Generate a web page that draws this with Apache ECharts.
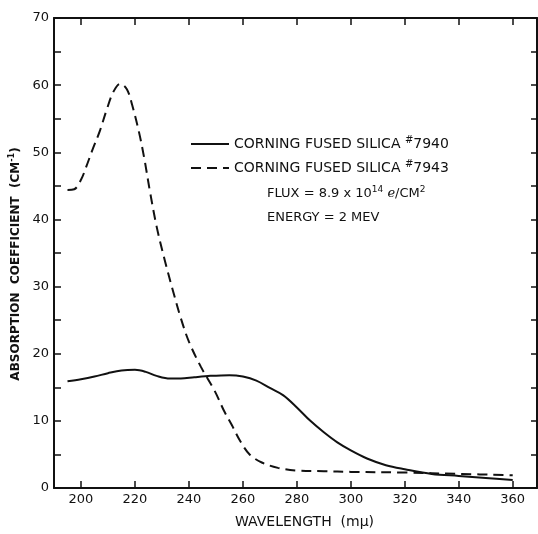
<!DOCTYPE html>
<html>
<head>
<meta charset="utf-8">
<script src="https://cdn.jsdelivr.net/npm/echarts@6/dist/echarts.min.js"></script>
<style>html,body{margin:0;padding:0;background:#fff;}#c{width:538px;height:534px;}</style>
</head>
<body>
<div id="c"></div>
<script>
// Data
const xTicks = [200, 220, 240, 260, 280, 300, 320, 340, 360];
const name7940 = 'CORNING FUSED SILICA #7940';
const name7943 = 'CORNING FUSED SILICA #7943';
const wl7940 = [195, 200, 205, 210, 215, 220, 224, 228, 233, 237, 242, 248, 255, 260, 265, 270, 275, 280, 285, 290, 295, 300, 306, 313, 320, 330, 340, 350, 360];
const ab7940 = [15.9, 16.2, 16.6, 17.1, 17.5, 17.6, 17.3, 16.7, 16.3, 16.3, 16.5, 16.7, 16.8, 16.6, 16.0, 14.9, 13.8, 12.0, 10.0, 8.3, 6.8, 5.6, 4.4, 3.4, 2.8, 2.1, 1.8, 1.5, 1.2];
const wl7943 = [195, 197.5, 200, 202, 204, 207, 209.5, 212, 214.5, 217, 219, 221.5, 223.5, 225.5, 228, 231, 234, 237, 240, 244.5, 249.5, 253, 256, 259, 262.5, 267, 273, 280, 290, 300, 320, 340, 360];
const ab7943 = [44.4, 44.5, 45.9, 47.9, 50.1, 53.2, 56.3, 59.0, 60.2, 59.4, 57.0, 53.0, 49.0, 44.3, 39.0, 34.0, 29.5, 25.3, 21.8, 18.0, 14.5, 11.5, 9.3, 7.0, 5.0, 3.8, 3.0, 2.6, 2.5, 2.4, 2.3, 2.1, 1.9];

const pairs = (xs, ys) => xs.map((x, i) => [x, ys[i]]);
const FONT = 'DejaVu Sans';
const INK = '#111';

const chart = echarts.init(document.getElementById('c'), null, {renderer: 'canvas'});
const tickCommon = {show: true, inside: true, length: 7, lineStyle: {color: INK, width: 1.5}};
chart.setOption({
  animation: false,
  backgroundColor: '#fff',
  grid: {left: 54, right: 1, top: 18, bottom: 40, containLabel: false},
  legend: {
    left: 190, top: 135, padding: 0, orient: 'vertical', itemWidth: 38, itemHeight: 14, itemGap: 8,
    data: [name7940, name7943],
    itemStyle: {opacity: 0},
    textStyle: {fontFamily: FONT, fontSize: 14, color: INK,
      rich: {sup: {fontFamily: FONT, fontSize: 10, color: INK, verticalAlign: 'top', padding: [0, 0, 8, 0]}}},
    formatter: n => n.replace('#', '{sup|#}')
  },
  graphic: [
    {type: 'text', left: 267, top: 185, style: {
      text: 'FLUX = 8.9 x 10{sup|14} ℯ/CM{sup|2}', fontFamily: FONT, fontSize: 13, fill: INK,
      rich: {sup: {fontFamily: FONT, fontSize: 9, fill: INK, padding: [0, 0, 8, 0]}}}},
    {type: 'text', left: 267, top: 211, style: {
      text: 'ENERGY = 2 MEV', fontFamily: FONT, fontSize: 13, fill: INK}}
  ],
  xAxis: [
    {type: 'value', position: 'bottom', min: 190, max: 369,
      name: 'WAVELENGTH  (mμ)', nameLocation: 'middle', nameGap: 27,
      nameTextStyle: {fontFamily: FONT, fontSize: 14, color: INK, padding: [0, 0, 0, 18]},
      axisLine: {show: true, onZero: false, lineStyle: {color: INK, width: 2}},
      axisTick: Object.assign({}, tickCommon, {customValues: xTicks}),
      axisLabel: {customValues: xTicks, fontFamily: FONT, fontSize: 13, color: INK, margin: 5},
      splitLine: {show: false}},
    {type: 'value', position: 'top', min: 190, max: 369,
      axisLine: {show: true, onZero: false, lineStyle: {color: INK, width: 2}},
      axisTick: Object.assign({}, tickCommon, {customValues: xTicks}),
      axisLabel: {show: false},
      splitLine: {show: false}}
  ],
  yAxis: [
    {type: 'value', position: 'left', min: 0, max: 70, interval: 10,
      name: 'ABSORPTION  COEFFICIENT  (CM{sup|-1})', nameLocation: 'middle', nameGap: 26,
      nameTextStyle: {fontFamily: FONT, fontSize: 12, fontWeight: 'bold', color: INK, padding: [0, 22, 0, 0],
        rich: {sup: {fontFamily: FONT, fontSize: 8, fontWeight: 'bold', color: INK, padding: [0, 0, 7, 0]}}},
      axisLine: {show: true, onZero: false, lineStyle: {color: INK, width: 2}},
      axisTick: tickCommon,
      minorTick: {show: true, splitNumber: 2, length: 7, lineStyle: {color: INK, width: 1.5}},
      axisLabel: {fontFamily: FONT, fontSize: 13, color: INK, margin: 5},
      splitLine: {show: false}},
    {type: 'value', position: 'right', min: 0, max: 70, interval: 5,
      axisLine: {show: true, onZero: false, lineStyle: {color: INK, width: 2}},
      axisTick: Object.assign({}, tickCommon, {length: 6}),
      axisLabel: {show: false},
      splitLine: {show: false}}
  ],
  series: [
    {name: name7940, type: 'line', xAxisIndex: 0, yAxisIndex: 0, smooth: 0.35, symbol: 'none',
      data: pairs(wl7940, ab7940), lineStyle: {color: INK, width: 2, type: 'solid'}, itemStyle: {color: INK}},
    {name: name7943, type: 'line', xAxisIndex: 0, yAxisIndex: 0, smooth: 0.35, symbol: 'none',
      data: pairs(wl7943, ab7943), lineStyle: {color: INK, width: 2, type: [10, 6]}, itemStyle: {color: INK}}
  ]
});
</script>
</body>
</html>
